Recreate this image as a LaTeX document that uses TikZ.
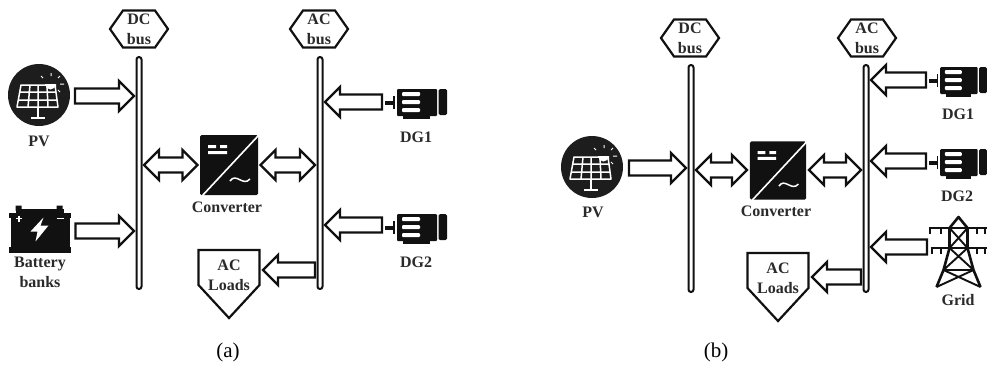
\documentclass[tikz,border=0pt]{standalone}
\usepackage{fontspec}
\setmainfont{Liberation Serif}
\usetikzlibrary{calc}
\definecolor{ink}{HTML}{111111}
\definecolor{txt}{HTML}{2A2A2A}
\tikzset{
  x=1pt,y=-1pt,
  busbar/.style={draw=ink,fill=white,line width=2pt,rounded corners=2.5pt,minimum width=5pt,inner sep=0pt,outer sep=2.5pt},
  iconbox/.style={minimum width=#1,inner sep=0pt,outer sep=3pt},
  blockarrow/.style={draw=ink,fill=white,line width=2.4pt,miter limit=3},
  outlineshape/.style={draw=ink,fill=white,line width=2.2pt,line join=miter},
  lab/.style={text=txt,font=\fontsize{16}{20}\selectfont\bfseries,align=center,inner sep=0pt},
  sub/.style={text=black,font=\fontsize{21}{24}\selectfont,inner sep=0pt},
  pics/pvicon/.style={code={
    \fill[fill=ink!95!white] (0,0) circle[radius=31];
    \draw[white,line width=1.5pt,line join=round] (-18,-10)--(16,-10)--(19,12)--(-22,12)--cycle;
    \draw[white,line width=1.5pt] (-19,-3)--(17,-3) (-20.5,5)--(18,5) (-9,-10)--(-11,12) (-1,-10)--(-1,12) (8,-10)--(9,12);
    \draw[white,line width=2.4pt] (-1,12)--(-1,22) (-8,23)--(6,23);
    \fill[white] (6,-11) arc[start angle=180,end angle=0,radius=5.5]--(17,-8)--(17,-11)--cycle;
    \draw[white,line width=1pt] (12,-19)--(12,-22) (19,-17)--(21,-19) (21,-11)--(25,-11) (4,-17)--(2,-19) (19,-5)--(21,-3);
  }},
  pics/batteryicon/.style={code={
    \fill[ink] (-24,-23) rectangle (-18,-18) (17,-23) rectangle (23,-18);
    \fill[ink] (-24,-20) rectangle (24,-16);
    \fill[ink] (-31,-16) rectangle (31,-11);
    \fill[ink] (-29,-11) rectangle (30,18);
    \fill[ink] (-31,18) rectangle (31,24);
    \draw[white,line width=1.4pt] (-23.5,-10)--(-17.5,-10) (-20.5,-13)--(-20.5,-7) (17,-10)--(24,-10);
    \fill[white] (4,-11)--(-9,3)--(-2,3)--(-4,13)--(9,-3)--(1,-3)--cycle;
  }},
  pics/genicon/.style={code={
    \fill[ink] (-31,-2) rectangle (-23,2);
    \fill[ink] (-23,-7) rectangle (-21,6);
    \fill[ink,rounded corners=1pt] (-19,-14) rectangle (21,13);
    \fill[ink] (-13,13) rectangle (14,16);
    \fill[ink,rounded corners=1.5pt] (22.5,-14) rectangle (31,12);
    \fill[white,rounded corners=1pt] (-14,-11) rectangle (4,-7) (-14,-3) rectangle (4,1) (-14,5) rectangle (4,9);
  }},
  pics/convicon/.style={code={
    \fill[ink,rounded corners=1.5pt] (-29,-30) rectangle (29,30);
    \draw[white,line width=1.6pt] (-27,31)--(29,-29);
    \fill[white] (-21,-20) rectangle (-13,-17) (-9,-20) rectangle (-2,-17) (-21,-14) rectangle (-2,-11);
    \draw[white,line width=1.5pt] (1,16) .. controls (7,7) and (14,22) .. (21,14);
  }},
  pics/towericon/.style={code={
    \draw[ink,line width=2.6pt,line join=round] (-22,35)--(-15,18)--(-9,-4)--(-9,-24)--(0,-35)--(9,-24)--(9,-4)--(15,18)--(22,35);
    \draw[ink,line width=1.9pt] (-9,-24)--(9,-4) (9,-24)--(-9,-4) (-9,-4)--(15,18) (9,-4)--(-15,18) (-15,18)--(22,35) (15,18)--(-22,35) (-9,-24)--(9,-24) (-9,-4)--(9,-4) (-15,18)--(15,18);
    \draw[ink,line width=2.6pt] (-30,-24)--(28,-24) (-28,-4)--(28,-4);
    \draw[ink,line width=2pt] (-29,-24)--(-29,-18) (-18,-24)--(-18,-18) (18,-24)--(18,-18) (26,-24)--(26,-18) (-27,-4)--(-27,2) (-18,-4)--(-18,2) (18,-4)--(18,2) (26,-4)--(26,2);
  }},
}
\newcommand\blockR[3]{\draw[blockarrow] let \p1=(#1.east |- 0,#3),\p2=(#2.west |- 0,#3) in
  (\x1,\y1+7.5pt)--(\x2-15pt,\y1+7.5pt)--(\x2-15pt,\y1+15pt)--(\x2,\y1)--(\x2-15pt,\y1-15pt)--(\x2-15pt,\y1-7.5pt)--(\x1,\y1-7.5pt)--cycle;}
\newcommand\blockL[3]{\draw[blockarrow] let \p1=(#1.west |- 0,#3),\p2=(#2.east |- 0,#3) in
  (\x1,\y1+7.5pt)--(\x2+15pt,\y1+7.5pt)--(\x2+15pt,\y1+15pt)--(\x2,\y1)--(\x2+15pt,\y1-15pt)--(\x2+15pt,\y1-7.5pt)--(\x1,\y1-7.5pt)--cycle;}
\newcommand\blockD[3]{\draw[blockarrow] let \p1=(#1.east |- 0,#3),\p2=(#2.west |- 0,#3) in
  (\x1,\y1)--(\x1+15pt,\y1+15pt)--(\x1+15pt,\y1+7.5pt)--(\x2-15pt,\y1+7.5pt)--(\x2-15pt,\y1+15pt)--(\x2,\y1)--(\x2-15pt,\y1-15pt)--(\x2-15pt,\y1-7.5pt)--(\x1+15pt,\y1-7.5pt)--(\x1+15pt,\y1-15pt)--cycle;}
% name, centre x, centre y, first line, second line
\newcommand\hexbus[5]{\draw[outlineshape] (#2-29,#3)--(#2-16,#3-18.5)--(#2+16,#3-18.5)--(#2+29,#3)--(#2+16,#3+18.5)--(#2-16,#3+18.5)--cycle;
  \node[lab] (#1) at (#2,#3) {#4\\#5};}
% name, centre x, top y
\newcommand\loadsbox[3]{\draw[outlineshape] (#2-30.5,#3)--(#2+30.5,#3)--(#2+30.5,#3+35)--(#2,#3+68)--(#2-30.5,#3+35)--cycle;
  \node[iconbox=61pt,minimum height=68pt,outer sep=3.5pt] (#1) at (#2,#3+34) {};
  \node[lab] (#1t) at (#2,#3+25) {AC\\Loads};}
\begin{document}
\begin{tikzpicture}
\useasboundingbox[fill=white] (0,0) rectangle (987,368);
% ---------- panel (a)
\hexbus{dchexA}{139}{29}{DC}{bus}
\hexbus{achexA}{319}{29}{AC}{bus}
\node[busbar,minimum height=232pt] (dcA) at (139,173) {};
\node[busbar,minimum height=232pt] (acA) at (320,173) {};
\node[iconbox=62pt,minimum height=62pt,outer sep=5pt] (pvA) at (39,95) {};
\pic at (pvA) {pvicon};
\node[lab] (pvAl) at (39,141) {PV};
\node[iconbox=62pt,minimum height=47pt,outer sep=5pt] (batA) at (39.5,228.5) {};
\pic at (batA) {batteryicon};
\node[lab] (batAl) at (40,272) {Battery\\banks};
\node[iconbox=58pt,minimum height=60pt,outer sep=2.5pt] (convA) at (229,165) {};
\pic at (convA) {convicon};
\node[lab] (convAl) at (227,207) {Converter};
\node[iconbox=62pt,minimum height=32pt] (dgoneA) at (416,103) {};
\pic at (dgoneA) {genicon};
\node[lab] (dgoneAl) at (416,137) {DG1};
\node[iconbox=62pt,minimum height=32pt] (dgtwoA) at (416,228) {};
\pic at (dgtwoA) {genicon};
\node[lab] (dgtwoAl) at (416,262) {DG2};
\loadsbox{loadsA}{229}{250}
\blockR{pvA}{dcA}{96}
\blockR{batA}{dcA}{231}
\blockD{dcA}{convA}{165}
\blockD{convA}{acA}{165}
\blockL{dgoneA}{acA}{102}
\blockL{dgtwoA}{acA}{225}
\blockL{acA}{loadsA}{270}
\node[sub] (capA) at (228,352) {(a)};
% ---------- panel (b)
\hexbus{dchexB}{690}{38}{DC}{bus}
\hexbus{achexB}{867}{38}{AC}{bus}
\node[busbar,minimum height=227pt] (dcB) at (691,178.5) {};
\node[busbar,minimum height=227pt] (acB) at (866,178.5) {};
\node[iconbox=62pt,minimum height=62pt,outer sep=6pt] (pvB) at (592,167) {};
\pic at (pvB) {pvicon};
\node[lab] (pvBl) at (593,212) {PV};
\node[iconbox=57pt,minimum height=59pt,outer sep=2.5pt] (convB) at (778,170.5) {};
\pic[scale=.97] at (convB) {convicon};
\node[lab] (convBl) at (776,211) {Converter};
\node[iconbox=58pt,minimum height=32pt] (dgoneB) at (958,81) {};
\pic[xscale=.935] at (dgoneB) {genicon};
\node[lab] (dgoneBl) at (958,114) {DG1};
\node[iconbox=58pt,minimum height=32pt] (dgtwoB) at (958,163) {};
\pic[xscale=.935] at (dgtwoB) {genicon};
\node[lab] (dgtwoBl) at (957,196) {DG2};
\node[iconbox=57pt,minimum height=70pt] (gridB) at (958.5,252) {};
\pic at (gridB) {towericon};
\node[lab] (gridBl) at (958,300) {Grid};
\loadsbox{loadsB}{778}{253}
\blockR{pvB}{dcB}{168}
\blockD{dcB}{convB}{170}
\blockD{convB}{acB}{170}
\blockL{dgoneB}{acB}{80}
\blockL{dgtwoB}{acB}{161}
\blockL{gridB}{acB}{247}
\blockL{acB}{loadsB}{277}
\node[sub] (capB) at (716,352) {(b)};
\end{tikzpicture}
\end{document}
